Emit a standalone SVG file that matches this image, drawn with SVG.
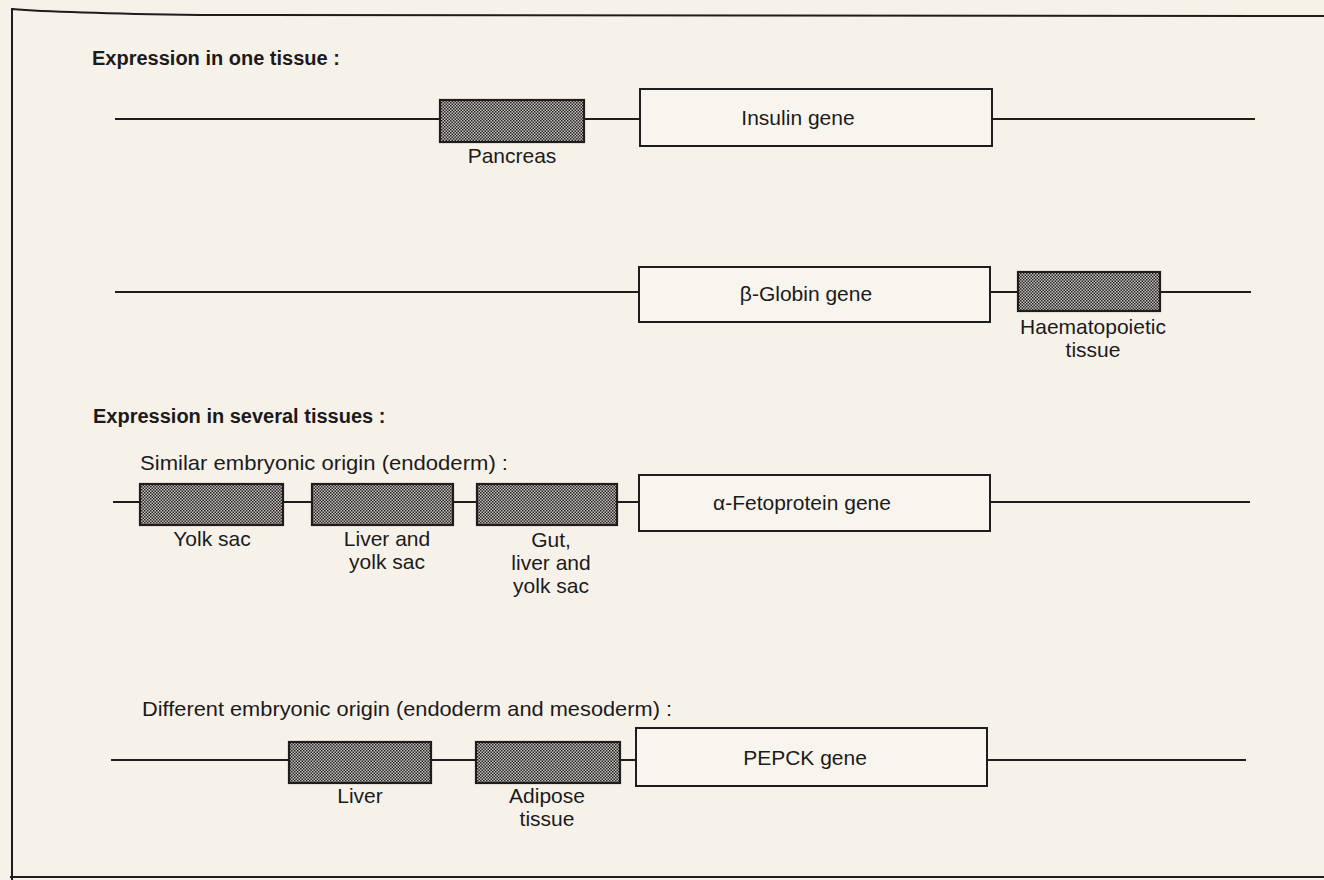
<svg xmlns="http://www.w3.org/2000/svg" width="1324" height="880" viewBox="0 0 1324 880">
<defs>
<pattern id="dots" width="3" height="3" patternUnits="userSpaceOnUse">
<rect width="3" height="3" fill="#c4c1bc"/>
<rect x="0" y="0" width="1.5" height="1.5" fill="#262424"/>
<rect x="1.5" y="1.5" width="1.5" height="1.5" fill="#262424"/>
</pattern>
<style>
.bg{fill:#f6f2ea}
.frame{fill:none;stroke:#1e1c1c;stroke-width:2}
.ln{stroke:#1e1c1c;stroke-width:2;fill:none}
.reg{fill:url(#dots);stroke:#1e1c1c;stroke-width:2.2}
.gene{fill:#f8f5ee;stroke:#1e1c1c;stroke-width:2}
text{font-family:"Liberation Sans",Arial,sans-serif;fill:#1c1a1a;font-size:21px}
.h{font-weight:bold;font-size:20px}
.c{text-anchor:middle}
</style>
</defs>
<rect class="bg" x="0" y="0" width="1324" height="880"/>
<path class="frame" d="M12,880 L12,9 Q60,13 200,15 L1324,16"/>
<line class="frame" x1="10" y1="877" x2="1324" y2="877"/>

<text class="h" x="92" y="65">Expression in one tissue :</text>
<text class="h" x="93" y="423">Expression in several tissues :</text>
<text x="140" y="470" textLength="368" lengthAdjust="spacingAndGlyphs">Similar embryonic origin (endoderm) :</text>
<text x="142" y="716" textLength="530" lengthAdjust="spacingAndGlyphs">Different embryonic origin (endoderm and mesoderm) :</text>

<g id="connectors">
<line class="ln" x1="115" y1="119" x2="440" y2="119"/>
<line class="ln" x1="584" y1="119" x2="640" y2="119"/>
<line class="ln" x1="992" y1="119" x2="1255" y2="119"/>
<line class="ln" x1="115" y1="292" x2="639" y2="292"/>
<line class="ln" x1="990" y1="292" x2="1018" y2="292"/>
<line class="ln" x1="1160" y1="292" x2="1251" y2="292"/>
<line class="ln" x1="113" y1="502" x2="140" y2="502"/>
<line class="ln" x1="283" y1="502" x2="312" y2="502"/>
<line class="ln" x1="453" y1="502" x2="477" y2="502"/>
<line class="ln" x1="617" y1="502" x2="639" y2="502"/>
<line class="ln" x1="990" y1="502" x2="1250" y2="502"/>
<line class="ln" x1="111" y1="760" x2="289" y2="760"/>
<line class="ln" x1="431" y1="760" x2="476" y2="760"/>
<line class="ln" x1="620" y1="760" x2="636" y2="760"/>
<line class="ln" x1="987" y1="760" x2="1246" y2="760"/>
</g>

<g id="pancreas">
<rect class="reg" x="440" y="100" width="144" height="42"/>
<text class="c" x="512" y="163">Pancreas</text>
</g>
<g id="insulin-gene">
<rect class="gene" x="640" y="89" width="352" height="57"/>
<text class="c" x="798" y="125">Insulin gene</text>
</g>

<g id="globin-gene">
<rect class="gene" x="639" y="267" width="351" height="55"/>
<text class="c" x="806" y="301">β-Globin gene</text>
</g>
<g id="haematopoietic">
<rect class="reg" x="1018" y="272" width="142" height="39"/>
<text class="c" x="1093" y="334">Haematopoietic</text>
<text class="c" x="1093" y="357">tissue</text>
</g>

<g id="yolk-sac">
<rect class="reg" x="140" y="484" width="143" height="41"/>
<text class="c" x="212" y="546">Yolk sac</text>
</g>
<g id="liver-yolk-sac">
<rect class="reg" x="312" y="484" width="141" height="41"/>
<text class="c" x="387" y="546">Liver and</text>
<text class="c" x="387" y="569">yolk sac</text>
</g>
<g id="gut-liver-yolk-sac">
<rect class="reg" x="477" y="484" width="140" height="41"/>
<text class="c" x="551" y="547">Gut,</text>
<text class="c" x="551" y="570">liver and</text>
<text class="c" x="551" y="593">yolk sac</text>
</g>
<g id="fetoprotein-gene">
<rect class="gene" x="639" y="475" width="351" height="56"/>
<text class="c" x="802" y="510">α-Fetoprotein gene</text>
</g>

<g id="liver">
<rect class="reg" x="289" y="742" width="142" height="41"/>
<text class="c" x="360" y="803">Liver</text>
</g>
<g id="adipose">
<rect class="reg" x="476" y="742" width="144" height="41"/>
<text class="c" x="547" y="803">Adipose</text>
<text class="c" x="547" y="826">tissue</text>
</g>
<g id="pepck-gene">
<rect class="gene" x="636" y="728" width="351" height="58"/>
<text class="c" x="805" y="765">PEPCK gene</text>
</g>
</svg>
